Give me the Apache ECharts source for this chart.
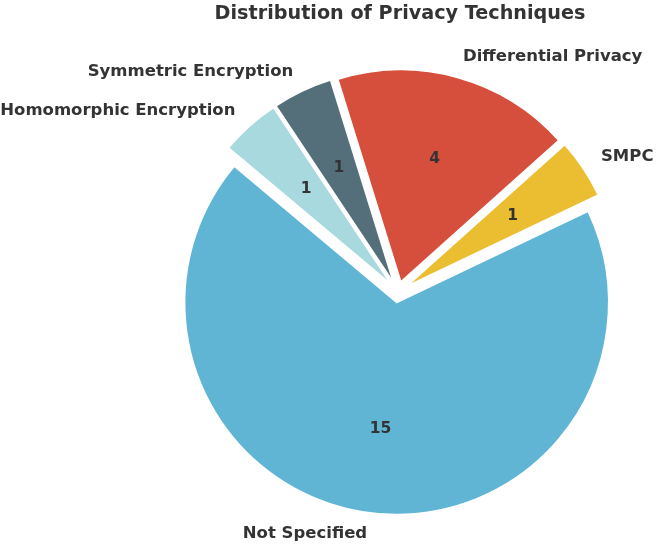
<!DOCTYPE html>
<html>
<head>
<meta charset="utf-8">
<script src="https://cdn.jsdelivr.net/npm/echarts@6/dist/echarts.min.js"></script>
<style>html,body{margin:0;padding:0;background:#fff;}#chart{width:657px;height:545px;}</style>
</head>
<body>
<div id="chart"></div>
<script>
const categories = ['Not Specified', 'SMPC', 'Differential Privacy', 'Symmetric Encryption', 'Homomorphic Encryption'];
const values = [15, 1, 4, 1, 1];
const colors = ['#60b5d5', '#ebbd30', '#d64f3d', '#546e7a', '#a8d9de'];

const CX = 398, CY = 292, R = 212, START = 140, EXPLODE = 0.05;
const total = values.reduce((a, b) => a + b, 0);

function midAngle(i) {
  let cum = 0;
  for (let k = 0; k < i; k++) cum += values[k];
  return (START + (cum + values[i] / 2) / total * 360) * Math.PI / 180;
}
function layout(dist, isName) {
  return function (params) {
    const a = midAngle(params.dataIndex);
    const c = Math.cos(a), s = Math.sin(a);
    const cx = CX + EXPLODE * R * c, cy = CY - EXPLODE * R * s;
    const x = cx + dist * R * c, y = cy - dist * R * s;
    return { x: x, y: y, align: isName ? (c > 0 ? 'left' : 'right') : 'center', verticalAlign: 'middle' };
  };
}

const font = 'DejaVu Sans';
const chart = echarts.init(document.getElementById('chart'), null, { renderer: 'canvas' });
const base = {
  type: 'pie',
  center: [CX, CY],
  radius: R,
  startAngle: START,
  clockwise: false,
  avoidLabelOverlap: false,
  animation: false
};
const textStyle = { fontFamily: font, fontWeight: 'bold', color: '#333333' };
chart.setOption({
  animation: false,
  title: {
    text: 'Distribution of Privacy Techniques',
    left: 395, top: 0, textAlign: 'center',
    textStyle: Object.assign({ fontSize: 19.2 }, textStyle)
  },
  series: [
    Object.assign({}, base, {
      selectedMode: 'multiple',
      selectedOffset: EXPLODE * R,
      emphasis: { disabled: true },
      itemStyle: { borderColor: '#ffffff', borderWidth: 1.5 },
      label: { show: false },
      labelLine: { show: false },
      data: categories.map((n, i) => ({ name: n, value: values[i], selected: true, itemStyle: { color: colors[i] } }))
    }),
    Object.assign({}, base, {
      silent: true,
      itemStyle: { color: 'rgba(0,0,0,0)', borderWidth: 0 },
      label: Object.assign({ show: true, position: 'outside', formatter: '{c}', fontSize: 15.5 }, textStyle),
      labelLine: { show: false },
      labelLayout: layout(0.6, false),
      data: categories.map((n, i) => ({ name: n, value: values[i] }))
    }),
    Object.assign({}, base, {
      silent: true,
      itemStyle: { color: 'rgba(0,0,0,0)', borderWidth: 0 },
      label: Object.assign({ show: true, position: 'outside', formatter: '{b}', fontSize: 16.5 }, textStyle),
      labelLine: { show: false },
      labelLayout: layout(1.1, true),
      data: categories.map((n, i) => ({ name: n, value: values[i] }))
    })
  ]
});
</script>
</body>
</html>
